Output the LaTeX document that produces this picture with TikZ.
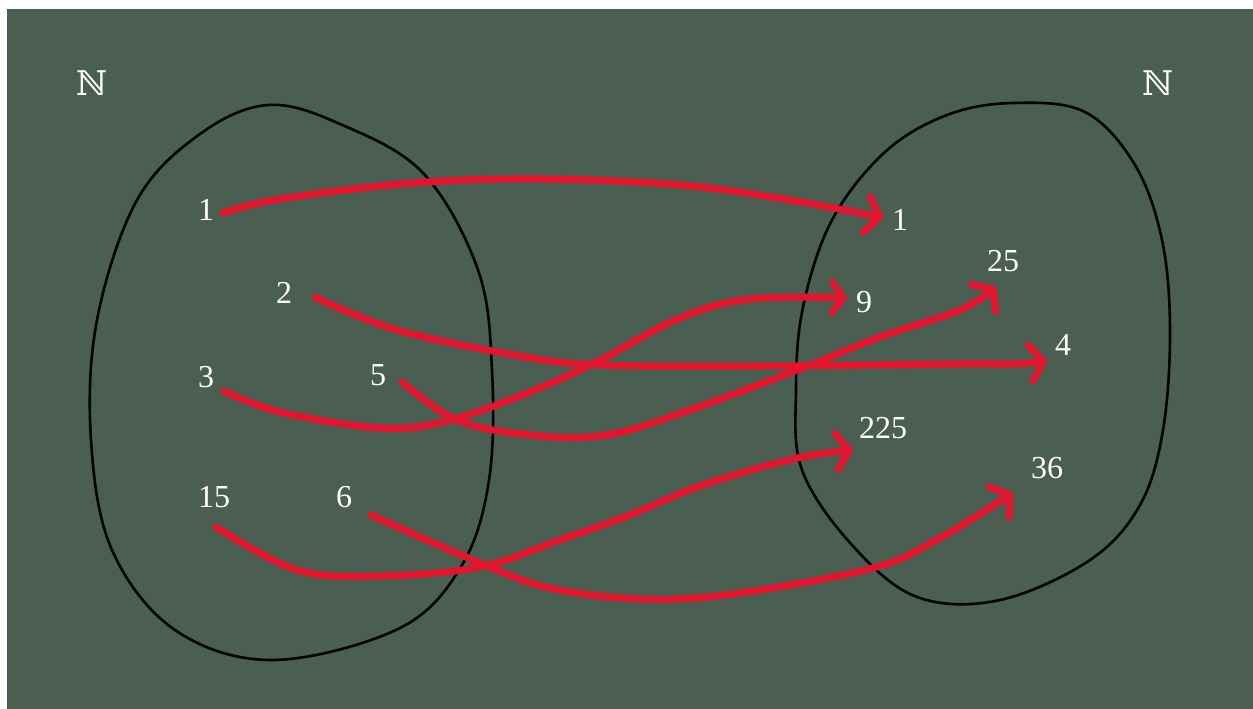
\documentclass[tikz,border=0pt]{standalone}
\usepackage{fontspec}
\setmainfont{Liberation Serif}
\newfontfamily\nfont{DejaVu Serif}
\usetikzlibrary{arrows.meta}
\definecolor{board}{RGB}{74,94,82}
\definecolor{chalkred}{RGB}{228,20,45}
\tikzset{
  lbl/.style={text=white,font=\fontsize{32}{34}\selectfont,inner sep=0pt},
  setname/.style={text=white,font=\nfont\fontsize{34}{36}\selectfont,inner sep=0pt},
  blob/.style={draw=black,line width=2.6pt},
  arr/.style={draw=chalkred,line width=7pt,line cap=round,line join=round,
    -{Straight Barb[length=13pt,width=36pt,line width=7pt,round]}}
}
\begin{document}
\begin{tikzpicture}[x=1pt,y=-1pt]
\fill[white] (0,0) rectangle (1253,709);
\fill[board] (7,9) rectangle (1253,709);
\useasboundingbox (0,0) rectangle (1253,709);
% set names
\node[setname] (nl) at (92,83) {ℕ};
\node[setname] (nr) at (1158,83) {ℕ};
% blobs
\draw[blob] plot[smooth cycle,tension=0.6] coordinates {
 (268,105) (340,124) (423,173) (478,270) (492,370) (489,480) (462,565)
 (400,628) (273,660) (175,630) (112,550) (91,440) (97,320) (137,200) (200,134)};
\draw[blob] plot[smooth cycle,tension=0.6] coordinates {
 (1013,103) (1085,112) (1135,165) (1162,240) (1170,330) (1163,430) (1140,505)
 (1090,560) (1000,600) (917,597) (852,545) (802,470) (796,390) (803,307)
 (832,220) (885,152) (947,115)};
% domain labels
\node[lbl] (d1) at (206,210) {1};
\node[lbl] (d2) at (284,293) {2};
\node[lbl] (d3) at (206,377) {3};
\node[lbl] (d5) at (378,375) {5};
\node[lbl] (d15) at (214,497) {15};
\node[lbl] (d6) at (344,497) {6};
% codomain labels
\node[lbl] (c1) at (900,220) {1};
\node[lbl] (c9) at (864,302) {9};
\node[lbl] (c25) at (1003,261) {25};
\node[lbl] (c4) at (1063,345) {4};
\node[lbl] (c225) at (883,428) {225};
\node[lbl] (c36) at (1047,468) {36};
% connector ends
\coordinate (s1) at (223,213);
\coordinate (e1) at (883,218);
\coordinate (s2) at (315,297);
\coordinate (e2) at (1047,361);
\coordinate (s3) at (224,391);
\coordinate (e3) at (847,298);
\coordinate (s5) at (402,382);
\coordinate (e5) at (996,287);
\coordinate (s15) at (216,527);
\coordinate (e15) at (853,450);
\coordinate (s6) at (371,515);
\coordinate (e6) at (1013,493);
% arrows
\draw[arr] plot[smooth,tension=0.6] coordinates {(s1) (280,199) (413,183) (540,179) (680,185) (790,200) (e1)};
\draw[arr] plot[smooth,tension=0.6] coordinates {(s2) (397,330) (520,356) (600,365) (760,366) (960,364) (1013,364) (e2)};
\draw[arr, -{Straight Barb[length=11pt,width=30pt,line width=7pt,round]}] plot[smooth,tension=0.6] coordinates {(s3) (280,412) (380,428) (447,421) (530,392) (600,360) (680,318) (750,299) (e3)};
\draw[arr] plot[smooth,tension=0.6] coordinates {(s5) (457,420) (530,435) (607,435) (690,410) (800,369) (880,337) (960,310) (e5)};
\draw[arr] plot[smooth,tension=0.6] coordinates {(s15) (297,570) (380,576) (480,567) (560,540) (630,515) (700,486) (793,459) (e15)};
\draw[arr] plot[smooth,tension=0.6] coordinates {(s6) (480,563) (550,588) (640,599) (733,594) (873,568) (940,538) (e6)};
\end{tikzpicture}
\end{document}
